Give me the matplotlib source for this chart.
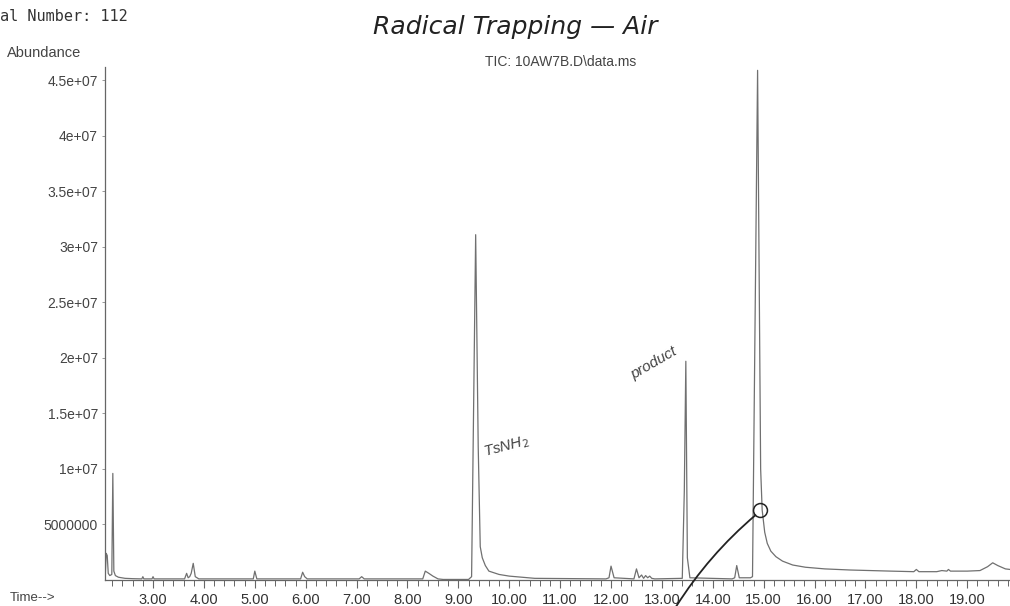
import matplotlib
matplotlib.use('Agg')
import numpy as np
from matplotlib import pyplot as plt
from matplotlib.ticker import MultipleLocator, FormatStrFormatter

# TIC trace (time in min, abundance)
time = [2.06, 2.08, 2.10, 2.12, 2.15, 2.19, 2.21, 2.23, 2.26, 2.32, 2.45, 2.60,
        2.78, 2.80, 2.82, 2.98, 3.00, 3.02, 3.40, 3.62, 3.66, 3.69, 3.72, 3.75,
        3.79, 3.83, 3.90, 4.50, 4.97, 5.00, 5.04, 5.90, 5.94, 5.98, 6.03, 7.05,
        7.10, 7.15, 8.30, 8.35, 8.42, 8.50, 8.60, 8.70, 9.20, 9.26, 9.34, 9.39,
        9.43, 9.47, 9.53, 9.60, 9.80, 10.00, 10.50, 11.90, 11.96, 12.00, 12.06,
        12.45, 12.50, 12.55, 12.60, 12.64, 12.68, 12.72, 12.76, 12.80, 12.86,
        13.40, 13.44, 13.47, 13.50, 13.55, 14.38, 14.43, 14.47, 14.52, 14.74,
        14.78, 14.88, 14.94, 14.97, 15.02, 15.07, 15.14, 15.24, 15.37, 15.57,
        15.82, 16.20, 16.70, 17.50, 17.95, 18.00, 18.05, 18.40, 18.50, 18.60,
        18.63, 18.67, 19.00, 19.25, 19.40, 19.50, 19.60, 19.75, 19.84]
abundance = [0.3e6, 2.4e6, 2.2e6, 0.6e6, 0.4e6, 0.5e6, 9.6e6, 0.8e6, 0.4e6, 0.25e6, 0.15e6, 0.12e6,
             0.1e6, 0.3e6, 0.1e6, 0.1e6, 0.3e6, 0.1e6, 0.1e6, 0.1e6, 0.6e6, 0.2e6, 0.3e6, 0.6e6,
             1.5e6, 0.3e6, 0.1e6, 0.1e6, 0.1e6, 0.8e6, 0.1e6, 0.1e6, 0.7e6, 0.3e6, 0.1e6, 0.1e6,
             0.3e6, 0.1e6, 0.1e6, 0.8e6, 0.6e6, 0.35e6, 0.1e6, 0.05e6, 0.05e6, 0.3e6, 31.1e6, 12e6,
             3.0e6, 2.0e6, 1.3e6, 0.8e6, 0.5e6, 0.35e6, 0.15e6, 0.1e6, 0.2e6, 1.25e6, 0.2e6,
             0.1e6, 1.0e6, 0.2e6, 0.45e6, 0.15e6, 0.4e6, 0.2e6, 0.35e6, 0.15e6, 0.1e6,
             0.15e6, 8e6, 19.7e6, 2e6, 0.2e6, 0.1e6, 0.2e6, 1.3e6, 0.2e6, 0.2e6,
             0.3e6, 45.9e6, 10e6, 6.3e6, 4.3e6, 3.3e6, 2.6e6, 2.1e6, 1.7e6, 1.35e6,
             1.15e6, 1.0e6, 0.9e6, 0.8e6, 0.75e6, 0.95e6, 0.75e6, 0.75e6, 0.85e6, 0.8e6,
             0.95e6, 0.8e6, 0.8e6, 0.85e6, 1.2e6, 1.55e6, 1.3e6, 1.0e6, 0.95e6]

x_ticks = [3, 4, 5, 6, 7, 8, 9, 10, 11, 12, 13, 14, 15, 16, 17, 18, 19]
y_ticks = [5000000, 1e7, 1.5e7, 2e7, 2.5e7, 3e7, 3.5e7, 4e7, 4.5e7]
y_labels = ['5000000', '1e+07', '1.5e+07', '2e+07', '2.5e+07', '3e+07', '3.5e+07', '4e+07', '4.5e+07']

plt.rcParams['font.family'] = ['Liberation Sans', 'DejaVu Sans']
fig = plt.figure(figsize=(10.1, 6.06), dpi=100)
ax = fig.add_axes([0.104, 0.0429, 0.896, 0.8465])

ax.plot(time, abundance, color='#707070', lw=0.9)
ax.set_xlim(2.057, 19.84)
ax.set_ylim(0, 4.62e7)

ax.spines['top'].set_visible(False)
ax.spines['right'].set_visible(False)
for s in ['left', 'bottom']:
    ax.spines[s].set_color('#666666')
    ax.spines[s].set_linewidth(0.9)

ax.set_xticks(x_ticks)
ax.xaxis.set_major_formatter(FormatStrFormatter('%.2f'))
ax.xaxis.set_minor_locator(MultipleLocator(0.2))
ax.set_yticks(y_ticks)
ax.set_yticklabels(y_labels)
ax.tick_params(axis='x', which='major', length=6, width=0.8, color='#666666', pad=3,
               labelsize=10.5, labelcolor='#333333')
ax.tick_params(axis='x', which='minor', length=4, width=0.7, color='#666666')
ax.tick_params(axis='y', length=2, width=0.6, color='#888888', pad=3,
               labelsize=10, labelcolor='#444444')

# header texts
fig.text(0.0, 0.972, 'al Number: 112', family='DejaVu Sans Mono', fontsize=11,
         color='#333333', ha='left', va='center')
fig.text(0.007, 0.912, 'Abundance', fontsize=10.5, color='#444444', ha='left', va='center')
fig.text(0.555, 0.897, 'TIC: 10AW7B.D\\data.ms', fontsize=10, color='#444444',
         ha='center', va='center')
fig.text(0.51, 0.955, 'Radical Trapping \u2014 Air', fontsize=18, style='italic',
         family='DejaVu Sans', fontweight='light', color='#222222', ha='center', va='center')
fig.text(0.01, 0.003, 'Time-->', fontsize=9.5, color='#444444', ha='left', va='bottom')

# handwritten labels
ax.text(9.95, 1.2e7, 'TsNH$_2$', fontsize=11, style='italic', rotation=15,
        color='#444444', ha='center', va='center')
ax.text(12.85, 1.95e7, 'product', fontsize=11, style='italic', rotation=30,
        color='#444444', ha='center', va='center')

# circled point and pen stroke
ax.plot([14.92], [6.3e6], marker='o', ms=10, mfc='none', mec='#222222', mew=1.1)
ax.annotate('', xy=(14.88, 6.0e6), xytext=(13.25, -2.6e6), annotation_clip=False,
            arrowprops=dict(arrowstyle='-', color='#222222', lw=1.3,
                            connectionstyle='arc3,rad=-0.08'))

fig.savefig('out.png', dpi=100)
